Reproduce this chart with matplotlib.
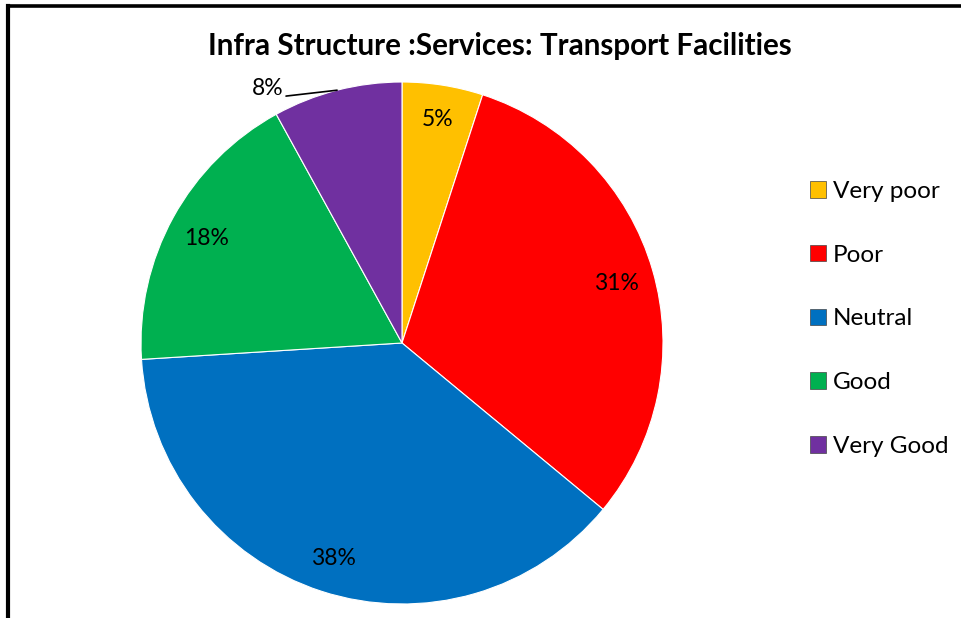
import numpy as np
import matplotlib
matplotlib.use("Agg")
import matplotlib.pyplot as plt
from matplotlib.lines import Line2D
from matplotlib.patches import Rectangle

plt.rcParams['font.family'] = ['Lato', 'DejaVu Sans']

categories = ["Very poor", "Poor", "Neutral", "Good", "Very Good"]
values = [5, 31, 38, 18, 8]
colors = ["#FFC000", "#FF0000", "#0070C0", "#00B050", "#7030A0"]
title = "Infra Structure :Services: Transport Facilities"

W, H = 962, 618
fig = plt.figure(figsize=(W / 100, H / 100), dpi=100)

# frame lines (top and left)
fig.add_artist(Line2D([8 / W, 1.0], [1 - 6 / H, 1 - 6 / H], color="black", lw=2.6,
                      transform=fig.transFigure))
fig.add_artist(Line2D([8 / W, 8 / W], [0, 1 - 6 / H], color="black", lw=3.0,
                      transform=fig.transFigure))

cx, cy, r = 402, 343, 261
ax = fig.add_axes([(cx - r) / W, (H - cy - r) / H, 2 * r / W, 2 * r / H])
wedges, texts, autotexts = ax.pie(
    values, colors=colors, startangle=90, counterclock=False,
    autopct=lambda p: f"{p:.0f}%", pctdistance=0.855,
    wedgeprops=dict(edgecolor="white", linewidth=0.8),
    textprops=dict(fontsize=16.5, color="black"))
ax.set_aspect("equal")
ax.set_xlim(-1, 1)
ax.set_ylim(-1, 1)

# nudge labels slightly down, small slice label slightly further out
for i, t in enumerate(autotexts):
    px, py = t.get_position()
    if i == 0:
        px, py = px * 1.03, py * 1.03
    t.set_position((px, py - 0.012))

# Very Good label outside with leader line
w = wedges[4]
mid = np.deg2rad((w.theta1 + w.theta2) / 2)
ex, ey = np.cos(mid), np.sin(mid)
autotexts[4].set_visible(False)
ax.annotate(f"{values[4]}%", xy=(ex, ey), xytext=(-0.455, 0.977),
            ha="right", va="center", fontsize=16.5,
            arrowprops=dict(arrowstyle="-", color="black", lw=1.2,
                            shrinkA=0, shrinkB=0, relpos=(1.0, 0.1)),
            annotation_clip=False)

fig.text(500 / W, 1 - 46 / H, title, ha="center", va="center",
         fontsize=21.3, fontweight="bold")

# legend
handles = [Rectangle((0, 0), 1, 1, facecolor=c, edgecolor="#444444", lw=0.5) for c in colors]
fig.legend(handles, categories, loc="upper left",
           bbox_to_anchor=(788 / W, 1 - 159 / H), frameon=False,
           fontsize=17.5, labelspacing=1.76, handlelength=0.68, handleheight=0.68,
           handletextpad=0.28)

fig.savefig("out.png", dpi=100)
